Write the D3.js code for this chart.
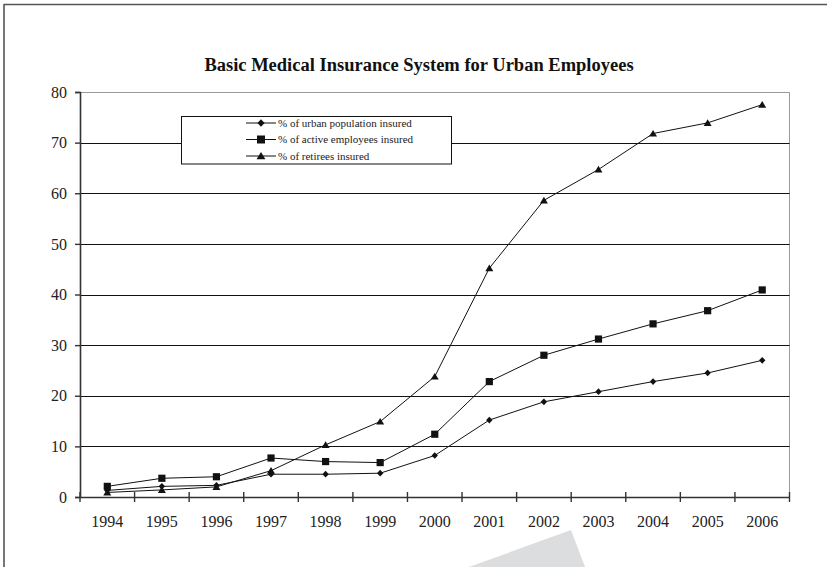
<!DOCTYPE html>
<html>
<head>
<meta charset="utf-8">
<script src="https://cdn.jsdelivr.net/npm/d3@7"></script>
<style>
  html, body { margin: 0; padding: 0; background: #fff; }
  svg { display: block; }
  svg text { font-family: 'Liberation Serif', 'Times New Roman', 'DejaVu Serif', serif; }
</style>
</head>
<body>
<svg id="chart" width="827" height="567"></svg>
<script>
const title = "Basic Medical Insurance System for Urban Employees";
const years = [1994, 1995, 1996, 1997, 1998, 1999, 2000, 2001, 2002, 2003, 2004, 2005, 2006];
const urbanPopulation = [1.3, 2.1, 2.3, 4.5, 4.5, 4.7, 8.2, 15.2, 18.8, 20.8, 22.8, 24.5, 27.0];
const activeEmployees = [2.1, 3.7, 4.0, 7.7, 7.0, 6.8, 12.4, 22.8, 28.0, 31.2, 34.2, 36.8, 40.9];
const retirees = [0.9, 1.4, 2.0, 5.2, 10.3, 14.9, 23.8, 45.2, 58.6, 64.7, 71.8, 73.9, 77.5];
const yTicks = [0, 10, 20, 30, 40, 50, 60, 70, 80];
const seriesNames = ["% of urban population insured", "% of active employees insured", "% of retirees insured"];

const svg = d3.select("#chart");
const W = 827, H = 567;
const plot = { left: 80, right: 789.5, top: 92, bottom: 497 };

// outer frame
svg.append("line").attr("x1", 4).attr("x2", W).attr("y1", 4.5).attr("y2", 4.5)
  .attr("stroke", "#555").attr("stroke-width", 1.6);
svg.append("line").attr("x1", 4).attr("x2", 4).attr("y1", 4).attr("y2", H)
  .attr("stroke", "#555").attr("stroke-width", 1.6);

// gray decorative wedge at bottom
svg.append("polygon").attr("points", "571,530 585,567 469,567").attr("fill", "#dcdddf");

const x = d3.scaleBand().domain(years).range([plot.left, plot.right]);
const y = d3.scaleLinear().domain([0, 80]).range([plot.bottom, plot.top]);

// plot border (top / right) light gray
svg.append("path")
  .attr("d", `M${plot.left},${plot.top + 0.5}H${plot.right}V${plot.bottom}`)
  .attr("fill", "none").attr("stroke", "#999").attr("stroke-width", 1);

// gridlines
svg.append("g").selectAll("line").data(yTicks.filter(d => d > 0 && d < 80)).join("line")
  .attr("x1", plot.left).attr("x2", plot.right)
  .attr("y1", d => Math.round(y(d)) + 0.5).attr("y2", d => Math.round(y(d)) + 0.5)
  .attr("stroke", "#111").attr("stroke-width", 1);

// y axis
const yAxis = d3.axisLeft(y).tickValues(yTicks).tickSize(5).tickPadding(8).tickFormat(d3.format("d"));
const gy = svg.append("g").attr("transform", `translate(${plot.left},0)`).call(yAxis);
gy.select(".domain").attr("stroke", "#333").attr("stroke-width", 1.6);
gy.selectAll(".tick line").attr("stroke", "#333").attr("stroke-width", 1.4);
gy.selectAll(".tick text").attr("font-size", 16).attr("fill", "#222");

// x axis (labels at band centers)
const xAxis = d3.axisBottom(x).tickSize(0).tickPadding(19);
const gx = svg.append("g").attr("transform", `translate(0,${plot.bottom})`).call(xAxis);
gx.select(".domain").attr("stroke", "#333").attr("stroke-width", 1.6);
gx.selectAll(".tick text").attr("font-size", 16).attr("fill", "#222");
// x boundary ticks crossing the axis
const boundaries = years.map(d => x(d)).concat([x.range()[1]]);
svg.append("g").selectAll("line").data(boundaries).join("line")
  .attr("x1", d => d).attr("x2", d => d)
  .attr("y1", plot.bottom - 5).attr("y2", plot.bottom + 5)
  .attr("stroke", "#333").attr("stroke-width", 1.4);

// title
svg.append("text").attr("x", 419).attr("y", 71).attr("text-anchor", "middle")
  .attr("font-weight", "bold").attr("font-size", 18.5)
  .attr("fill", "#111").text(title);

// marker path generators
const markers = [
  (s) => `M0,${-s * 1.05}L${s},0L0,${s * 1.05}L${-s},0Z`,   // diamond
  (s) => `M${-s},${-s}H${s}V${s}H${-s}Z`,                  // square
  (s) => `M0,${-s * 0.95}L${s * 1.05},${s * 0.8}H${-s * 1.05}Z` // triangle
];
const markerSizes = [3.2, 3.6, 3.8];
const allSeries = [urbanPopulation, activeEmployees, retirees];

const line = d3.line().x((d, i) => x(years[i]) + x.bandwidth() / 2).y(d => y(d));

allSeries.forEach((vals) => {
  svg.append("path").datum(vals).attr("d", line)
    .attr("fill", "none").attr("stroke", "#111").attr("stroke-width", 1);
});
allSeries.forEach((vals, si) => {
  svg.append("g").selectAll("path").data(vals).join("path")
    .attr("transform", (d, i) => `translate(${x(years[i]) + x.bandwidth() / 2},${y(d)})`)
    .attr("d", markers[si](markerSizes[si])).attr("fill", "#111");
});

// legend
const lg = svg.append("g");
lg.append("rect").attr("x", 181.5).attr("y", 116.5).attr("width", 270).attr("height", 47.5)
  .attr("fill", "#fff").attr("stroke", "#111").attr("stroke-width", 1);
const rowY = [123, 139.5, 156];
seriesNames.forEach((name, i) => {
  lg.append("line").attr("x1", 246).attr("x2", 276).attr("y1", rowY[i]).attr("y2", rowY[i])
    .attr("stroke", "#111").attr("stroke-width", 1);
  lg.append("path").attr("transform", `translate(261,${rowY[i]})`)
    .attr("d", markers[i](markerSizes[i] + 0.4)).attr("fill", "#111");
  lg.append("text").attr("x", 278).attr("y", rowY[i]).attr("dy", "0.35em")
    .attr("font-size", 11).attr("fill", "#222").text(name);
});
</script>
</body>
</html>
